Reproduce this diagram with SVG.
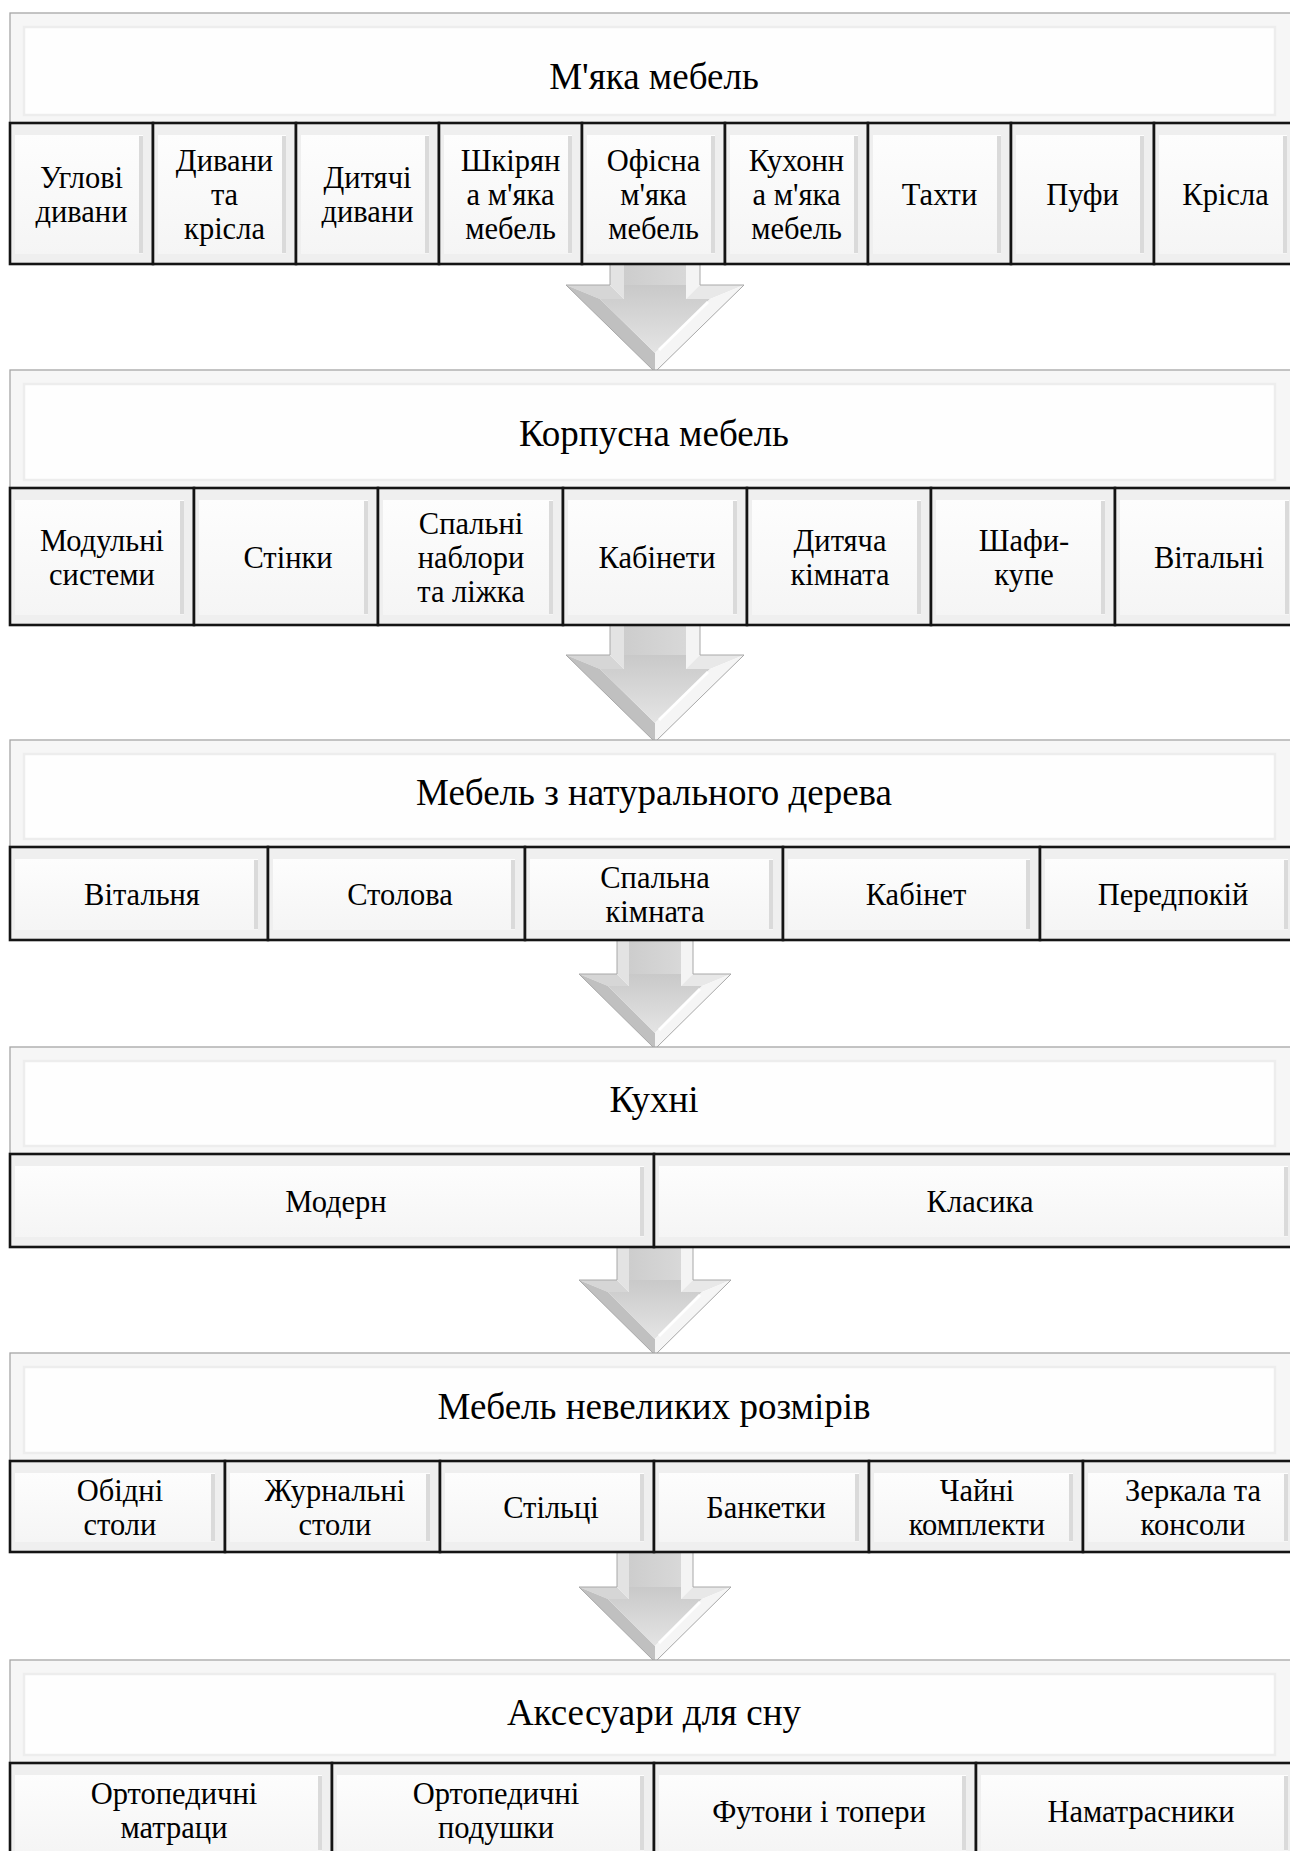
<svg xmlns="http://www.w3.org/2000/svg" xmlns:xlink="http://www.w3.org/1999/xlink" width="1290" height="1851" viewBox="0 0 1290 1851">
<style>
.hdr{fill:#f6f6f6;stroke:#a6a6a6;stroke-width:1.3}
.hin{fill:#fefefe;stroke:#ededed;stroke-width:2.5}
.box{fill:#efefef;stroke:#141414;stroke-width:2.6}
.pan{fill:url(#gPanel)}
.sh{fill:#dadada}
.ht{font-family:"Liberation Serif","Times New Roman",serif;font-size:37px;fill:#000;text-anchor:middle}
.ct{font-family:"Liberation Serif","Times New Roman",serif;font-size:30.5px;fill:#000;text-anchor:middle}
</style>
<defs>
<linearGradient id="gInner" x1="0" y1="0" x2="0" y2="1"><stop offset="0" stop-color="#c9c9c9"/><stop offset="1" stop-color="#e4e4e4"/></linearGradient>
<linearGradient id="gShaft" x1="0" y1="0" x2="1" y2="0"><stop offset="0" stop-color="#cdcdcd"/><stop offset="1" stop-color="#d8d8d8"/></linearGradient>
<linearGradient id="gPanel" x1="0" y1="0" x2="0" y2="1"><stop offset="0" stop-color="#fdfdfd"/><stop offset="1" stop-color="#f5f5f5"/></linearGradient>
<g id="arrowBig">
 <rect x="-45" y="-45" width="14" height="45" fill="#e3e3e3"/>
 <rect x="-31" y="-45" width="62" height="45" fill="url(#gShaft)"/>
 <rect x="31" y="-45" width="14" height="45" fill="#f4f4f4"/>
 <polygon points="-89,0 -45,0 -31,14 -55,14" fill="#d6d6d6"/>
 <polygon points="-45,0 -31,0 -31,14" fill="#e3e3e3"/>
 <polygon points="-89,0 -55,14 0,68 0,87" fill="#c0c0c0"/>
 <polygon points="-31,0 31,0 31,14 55,14 0,68 -55,14 -31,14" fill="url(#gInner)"/>
 <polygon points="31,0 45,0 31,14" fill="#f4f4f4"/>
 <polygon points="45,0 89,0 55,14 31,14" fill="#e8e8e8"/>
 <polygon points="89,0 0,87 0,68 55,14" fill="#f5f5f5"/>
 <path d="M53,17 L4,65" stroke="#ffffff" stroke-width="3"/>
 <path d="M-45,-45 V0 H-89 L0,87 L89,0 H45 V-45" fill="none" stroke="#a8a8a8" stroke-width="1"/>
</g>
<g id="arrowSmall">
 <rect x="-38" y="-45" width="12" height="45" fill="#e3e3e3"/>
 <rect x="-26" y="-45" width="52" height="45" fill="url(#gShaft)"/>
 <rect x="26" y="-45" width="12" height="45" fill="#f4f4f4"/>
 <polygon points="-76,0 -38,0 -26,12 -47,12" fill="#d6d6d6"/>
 <polygon points="-38,0 -26,0 -26,12" fill="#e3e3e3"/>
 <polygon points="-76,0 -47,12 0,59 0,75" fill="#c0c0c0"/>
 <polygon points="-26,0 26,0 26,12 47,12 0,59 -47,12 -26,12" fill="url(#gInner)"/>
 <polygon points="26,0 38,0 26,12" fill="#f4f4f4"/>
 <polygon points="38,0 76,0 47,12 26,12" fill="#e8e8e8"/>
 <polygon points="76,0 0,75 0,59 47,12" fill="#f5f5f5"/>
 <path d="M45,15 L4,56" stroke="#ffffff" stroke-width="3"/>
 <path d="M-38,-45 V0 H-76 L0,75 L76,0 H38 V-45" fill="none" stroke="#a8a8a8" stroke-width="1"/>
</g>
</defs>
<rect x="0" y="0" width="1290" height="1851" fill="#ffffff"/>

<g id="connectors">
 <use xlink:href="#arrowBig" href="#arrowBig" x="655" y="285"/>
 <use xlink:href="#arrowBig" href="#arrowBig" x="655" y="655"/>
 <use xlink:href="#arrowSmall" href="#arrowSmall" x="655" y="974"/>
 <use xlink:href="#arrowSmall" href="#arrowSmall" x="655" y="1280"/>
 <use xlink:href="#arrowSmall" href="#arrowSmall" x="655" y="1587"/>
</g>

<!-- Section 1 -->
<g id="n-myaka-mebel">
 <rect class="hdr" x="10" y="13" width="1288" height="110"/>
 <rect class="hin" x="24" y="27" width="1251" height="88"/>
 <text class="ht" x="654" y="89">М'яка мебель</text>
</g>
<g id="n-uglovi"><rect class="box" x="10" y="123" width="143" height="141"/><rect class="pan" x="15" y="135" width="128" height="119"/><rect class="sh" x="139" y="136" width="4" height="117"/>
 <text class="ct"><tspan x="81.5" y="187.5">Углові</tspan><tspan x="81.5" dy="34">дивани</tspan></text></g>
<g id="n-dyvany"><rect class="box" x="153" y="123" width="143" height="141"/><rect class="pan" x="158" y="135" width="128" height="119"/><rect class="sh" x="282" y="136" width="4" height="117"/>
 <text class="ct"><tspan x="224.5" y="170.5">Дивани</tspan><tspan x="224.5" dy="34">та</tspan><tspan x="224.5" dy="34">крісла</tspan></text></g>
<g id="n-dytyachi"><rect class="box" x="296" y="123" width="143" height="141"/><rect class="pan" x="301" y="135" width="128" height="119"/><rect class="sh" x="425" y="136" width="4" height="117"/>
 <text class="ct"><tspan x="367.5" y="187.5">Дитячі</tspan><tspan x="367.5" dy="34">дивани</tspan></text></g>
<g id="n-shkiryana"><rect class="box" x="439" y="123" width="143" height="141"/><rect class="pan" x="444" y="135" width="128" height="119"/><rect class="sh" x="568" y="136" width="4" height="117"/>
 <text class="ct"><tspan x="510.5" y="170.5">Шкірян</tspan><tspan x="510.5" dy="34">а м'яка</tspan><tspan x="510.5" dy="34">мебель</tspan></text></g>
<g id="n-ofisna"><rect class="box" x="582" y="123" width="143" height="141"/><rect class="pan" x="587" y="135" width="128" height="119"/><rect class="sh" x="711" y="136" width="4" height="117"/>
 <text class="ct"><tspan x="653.5" y="170.5">Офісна</tspan><tspan x="653.5" dy="34">м'яка</tspan><tspan x="653.5" dy="34">мебель</tspan></text></g>
<g id="n-kuhonna"><rect class="box" x="725" y="123" width="143" height="141"/><rect class="pan" x="730" y="135" width="128" height="119"/><rect class="sh" x="854" y="136" width="4" height="117"/>
 <text class="ct"><tspan x="796.5" y="170.5">Кухонн</tspan><tspan x="796.5" dy="34">а м'яка</tspan><tspan x="796.5" dy="34">мебель</tspan></text></g>
<g id="n-tahty"><rect class="box" x="868" y="123" width="143" height="141"/><rect class="pan" x="873" y="135" width="128" height="119"/><rect class="sh" x="997" y="136" width="4" height="117"/>
 <text class="ct" x="939.5" y="204.5">Тахти</text></g>
<g id="n-pufy"><rect class="box" x="1011" y="123" width="143" height="141"/><rect class="pan" x="1016" y="135" width="128" height="119"/><rect class="sh" x="1140" y="136" width="4" height="117"/>
 <text class="ct" x="1082.5" y="204.5">Пуфи</text></g>
<g id="n-krisla"><rect class="box" x="1154" y="123" width="143" height="141"/><rect class="pan" x="1159" y="135" width="128" height="119"/><rect class="sh" x="1283" y="136" width="4" height="117"/>
 <text class="ct" x="1225.5" y="204.5">Крісла</text></g>

<!-- Section 2 -->
<g id="n-korpusna">
 <rect class="hdr" x="10" y="370" width="1288" height="118"/>
 <rect class="hin" x="24" y="384" width="1251" height="96"/>
 <text class="ht" x="654" y="446">Корпусна мебель</text>
</g>
<g id="n-modulni"><rect class="box" x="10" y="488" width="184" height="137"/><rect class="pan" x="15" y="500" width="169" height="115"/><rect class="sh" x="180" y="501" width="4" height="113"/>
 <text class="ct"><tspan x="102" y="550.5">Модульні</tspan><tspan x="102" dy="34">системи</tspan></text></g>
<g id="n-stinky"><rect class="box" x="194" y="488" width="184" height="137"/><rect class="pan" x="199" y="500" width="169" height="115"/><rect class="sh" x="364" y="501" width="4" height="113"/>
 <text class="ct" x="288" y="567.5">Стінки</text></g>
<g id="n-spalni"><rect class="box" x="378" y="488" width="185" height="137"/><rect class="pan" x="383" y="500" width="170" height="115"/><rect class="sh" x="549" y="501" width="4" height="113"/>
 <text class="ct"><tspan x="471" y="533.5">Спальні</tspan><tspan x="471" dy="34">наблори</tspan><tspan x="471" dy="34">та ліжка</tspan></text></g>
<g id="n-kabinety"><rect class="box" x="563" y="488" width="184" height="137"/><rect class="pan" x="568" y="500" width="169" height="115"/><rect class="sh" x="733" y="501" width="4" height="113"/>
 <text class="ct" x="657" y="567.5">Кабінети</text></g>
<g id="n-dytyacha"><rect class="box" x="747" y="488" width="184" height="137"/><rect class="pan" x="752" y="500" width="169" height="115"/><rect class="sh" x="917" y="501" width="4" height="113"/>
 <text class="ct"><tspan x="840" y="550.5">Дитяча</tspan><tspan x="840" dy="34">кімната</tspan></text></g>
<g id="n-shafy"><rect class="box" x="931" y="488" width="184" height="137"/><rect class="pan" x="936" y="500" width="169" height="115"/><rect class="sh" x="1101" y="501" width="4" height="113"/>
 <text class="ct"><tspan x="1024" y="550.5">Шафи-</tspan><tspan x="1024" dy="34">купе</tspan></text></g>
<g id="n-vitalni"><rect class="box" x="1115" y="488" width="184" height="137"/><rect class="pan" x="1120" y="500" width="169" height="115"/><rect class="sh" x="1285" y="501" width="4" height="113"/>
 <text class="ct" x="1209" y="567.5">Вітальні</text></g>

<!-- Section 3 -->
<g id="n-naturalne">
 <rect class="hdr" x="10" y="740" width="1288" height="107"/>
 <rect class="hin" x="24" y="754" width="1251" height="85"/>
 <text class="ht" x="654" y="805">Мебель з натурального дерева</text>
</g>
<g id="n-vitalnya"><rect class="box" x="10" y="847" width="258" height="93"/><rect class="pan" x="15" y="859" width="243" height="71"/><rect class="sh" x="254" y="860" width="4" height="69"/>
 <text class="ct" x="142" y="904.5">Вітальня</text></g>
<g id="n-stolova"><rect class="box" x="268" y="847" width="257" height="93"/><rect class="pan" x="273" y="859" width="242" height="71"/><rect class="sh" x="511" y="860" width="4" height="69"/>
 <text class="ct" x="400" y="904.5">Столова</text></g>
<g id="n-spalna"><rect class="box" x="525" y="847" width="258" height="93"/><rect class="pan" x="530" y="859" width="243" height="71"/><rect class="sh" x="769" y="860" width="4" height="69"/>
 <text class="ct"><tspan x="655" y="887.5">Спальна</tspan><tspan x="655" dy="34">кімната</tspan></text></g>
<g id="n-kabinet"><rect class="box" x="783" y="847" width="257" height="93"/><rect class="pan" x="788" y="859" width="242" height="71"/><rect class="sh" x="1026" y="860" width="4" height="69"/>
 <text class="ct" x="916" y="904.5">Кабінет</text></g>
<g id="n-peredpokiy"><rect class="box" x="1040" y="847" width="258" height="93"/><rect class="pan" x="1045" y="859" width="243" height="71"/><rect class="sh" x="1284" y="860" width="4" height="69"/>
 <text class="ct" x="1173" y="904.5">Передпокій</text></g>

<!-- Section 4 -->
<g id="n-kuhni">
 <rect class="hdr" x="10" y="1047" width="1288" height="107"/>
 <rect class="hin" x="24" y="1061" width="1251" height="85"/>
 <text class="ht" x="654" y="1112">Кухні</text>
</g>
<g id="n-modern"><rect class="box" x="10" y="1154" width="644" height="93"/><rect class="pan" x="15" y="1166" width="629" height="71"/><rect class="sh" x="640" y="1167" width="4" height="69"/>
 <text class="ct" x="336" y="1211.5">Модерн</text></g>
<g id="n-klasyka"><rect class="box" x="654" y="1154" width="644" height="93"/><rect class="pan" x="659" y="1166" width="629" height="71"/><rect class="sh" x="1284" y="1167" width="4" height="69"/>
 <text class="ct" x="980" y="1211.5">Класика</text></g>

<!-- Section 5 -->
<g id="n-nevelyki">
 <rect class="hdr" x="10" y="1353" width="1288" height="108"/>
 <rect class="hin" x="24" y="1367" width="1251" height="86"/>
 <text class="ht" x="654" y="1419">Мебель невеликих розмірів</text>
</g>
<g id="n-obidni"><rect class="box" x="10" y="1461" width="215" height="91"/><rect class="pan" x="15" y="1473" width="200" height="69"/><rect class="sh" x="211" y="1474" width="4" height="67"/>
 <text class="ct"><tspan x="120" y="1500.5">Обідні</tspan><tspan x="120" dy="34">столи</tspan></text></g>
<g id="n-zhurnalni"><rect class="box" x="225" y="1461" width="215" height="91"/><rect class="pan" x="230" y="1473" width="200" height="69"/><rect class="sh" x="426" y="1474" width="4" height="67"/>
 <text class="ct"><tspan x="335" y="1500.5">Журнальні</tspan><tspan x="335" dy="34">столи</tspan></text></g>
<g id="n-stiltsi"><rect class="box" x="440" y="1461" width="214" height="91"/><rect class="pan" x="445" y="1473" width="199" height="69"/><rect class="sh" x="640" y="1474" width="4" height="67"/>
 <text class="ct" x="551" y="1517.5">Стільці</text></g>
<g id="n-banketky"><rect class="box" x="654" y="1461" width="215" height="91"/><rect class="pan" x="659" y="1473" width="200" height="69"/><rect class="sh" x="855" y="1474" width="4" height="67"/>
 <text class="ct" x="766" y="1517.5">Банкетки</text></g>
<g id="n-chaini"><rect class="box" x="869" y="1461" width="214" height="91"/><rect class="pan" x="874" y="1473" width="199" height="69"/><rect class="sh" x="1069" y="1474" width="4" height="67"/>
 <text class="ct"><tspan x="977" y="1500.5">Чайні</tspan><tspan x="977" dy="34">комплекти</tspan></text></g>
<g id="n-zerkala"><rect class="box" x="1083" y="1461" width="215" height="91"/><rect class="pan" x="1088" y="1473" width="200" height="69"/><rect class="sh" x="1284" y="1474" width="4" height="67"/>
 <text class="ct"><tspan x="1193" y="1500.5">Зеркала та</tspan><tspan x="1193" dy="34">консоли</tspan></text></g>

<!-- Section 6 -->
<g id="n-aksesuary">
 <rect class="hdr" x="10" y="1660" width="1288" height="103"/>
 <rect class="hin" x="24" y="1674" width="1251" height="81"/>
 <text class="ht" x="654" y="1725">Аксесуари для сну</text>
</g>
<g id="n-matratsy"><rect class="box" x="10" y="1763" width="322" height="98"/><rect class="pan" x="15" y="1775" width="307" height="76"/><rect class="sh" x="318" y="1776" width="4" height="74"/>
 <text class="ct"><tspan x="174" y="1804">Ортопедичні</tspan><tspan x="174" dy="34">матраци</tspan></text></g>
<g id="n-podushky"><rect class="box" x="332" y="1763" width="322" height="98"/><rect class="pan" x="337" y="1775" width="307" height="76"/><rect class="sh" x="640" y="1776" width="4" height="74"/>
 <text class="ct"><tspan x="496" y="1804">Ортопедичні</tspan><tspan x="496" dy="34">подушки</tspan></text></g>
<g id="n-futony"><rect class="box" x="654" y="1763" width="322" height="98"/><rect class="pan" x="659" y="1775" width="307" height="76"/><rect class="sh" x="962" y="1776" width="4" height="74"/>
 <text class="ct" x="819" y="1822">Футони і топери</text></g>
<g id="n-namatrasnyky"><rect class="box" x="976" y="1763" width="322" height="98"/><rect class="pan" x="981" y="1775" width="307" height="76"/><rect class="sh" x="1284" y="1776" width="4" height="74"/>
 <text class="ct" x="1141" y="1822">Наматрасники</text></g>
</svg>
